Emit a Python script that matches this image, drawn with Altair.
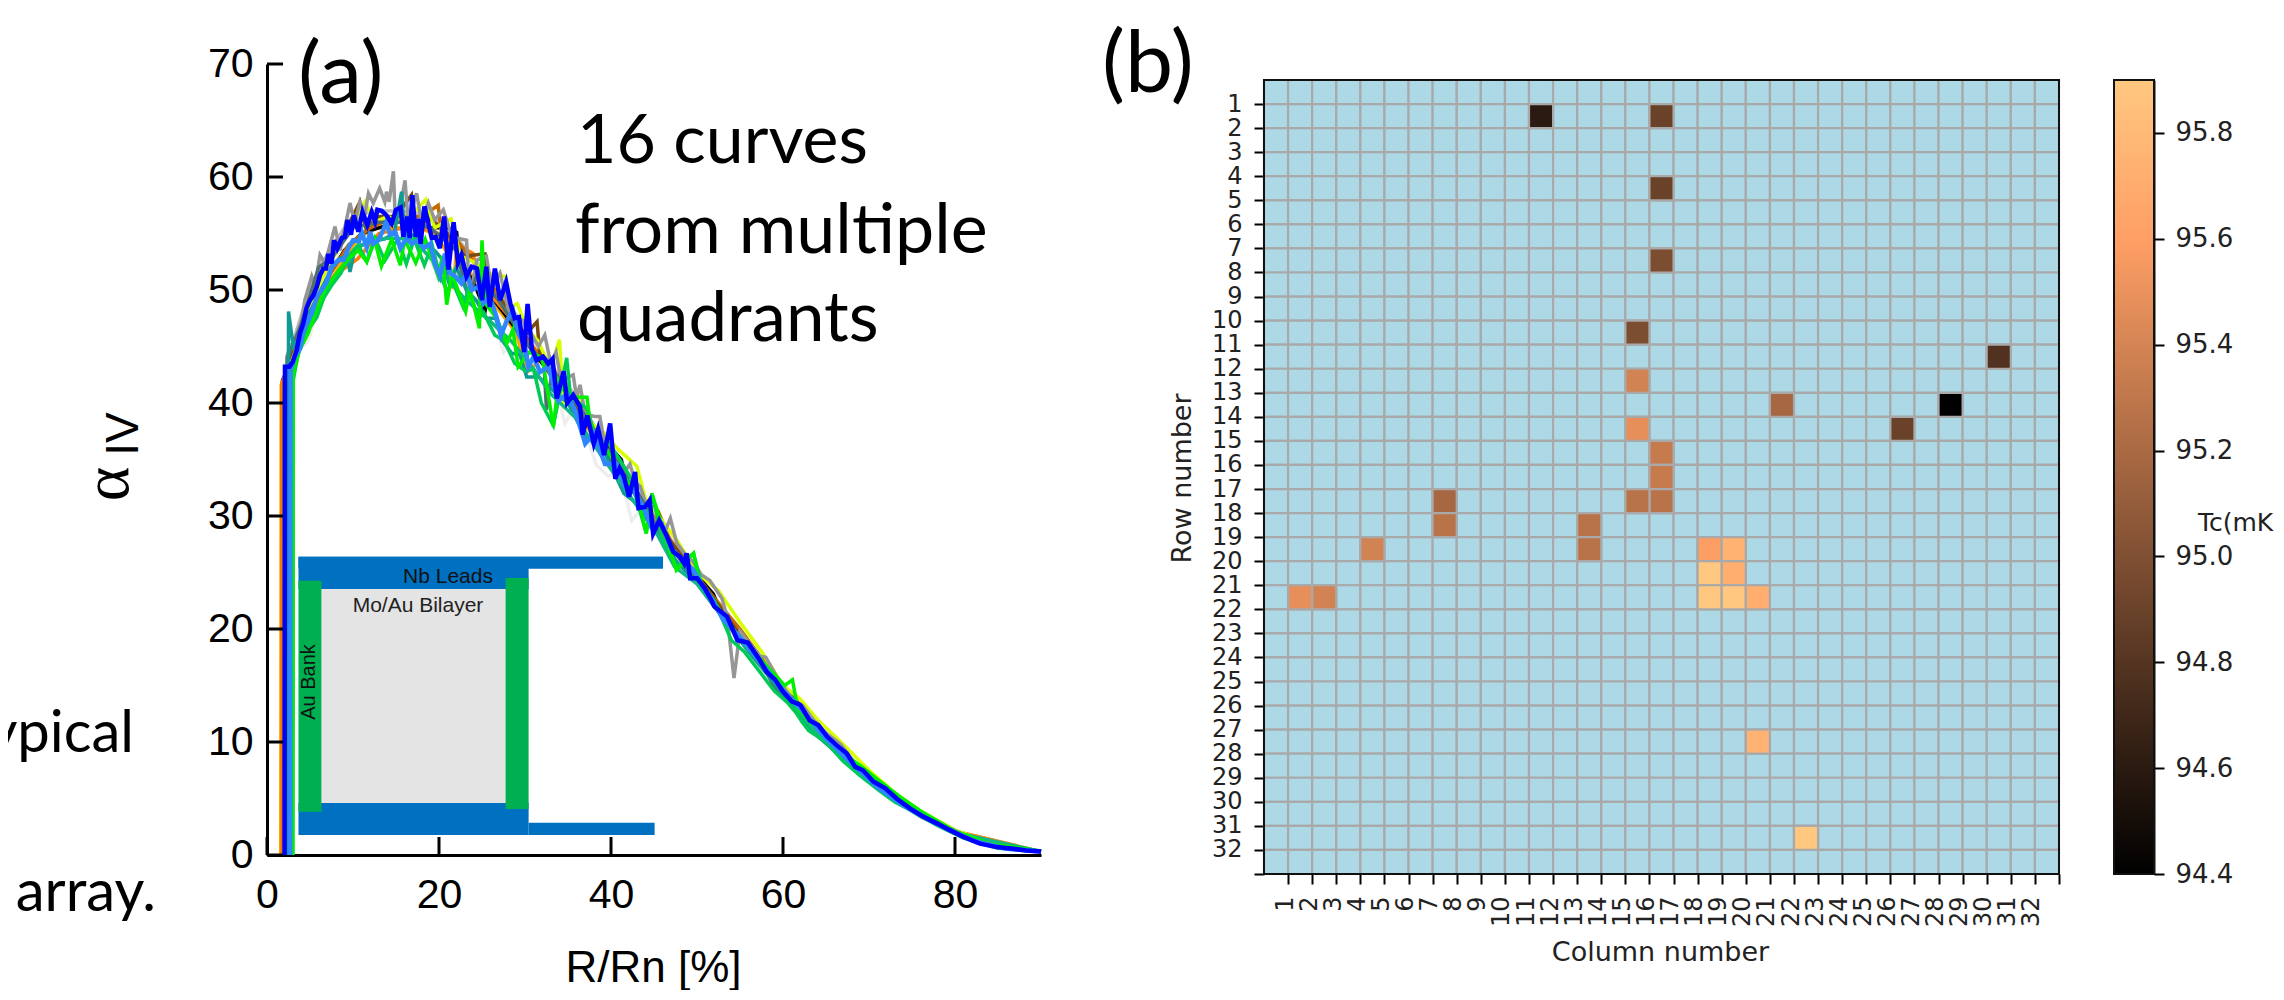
import altair as alt
import pandas as pd

# ---------- panel (a): curves, (R/Rn %, alpha) ----------
blue = [(2.05,0),(2.09,43.2),(2.6,43.2),(3.0,43.65),(3.45,44.7),(3.84,46.2),(4.2,47.0),(4.6,48.4),(5.0,49.1),(5.4,49.55),(5.8,50.3),(6.16,51.3),(6.55,51.9),(6.86,51.9),(7.13,53.2),(7.5,52.35),(7.8,54.4),(8.18,53.7),(8.7,54.6),(9.07,54.7),(9.34,56.2),(9.77,54.9),(10.1,56.6),(10.62,55.16),(11.1,56.9),(11.67,55.75),(12.17,56.9),(12.56,56.05),(12.83,57.1),(13.33,57.0),(13.9,56.6),(14.5,55.9),(15.0,57.1),(15.54,57.3),(15.85,54.7),(16.3,56.5),(16.6,54.6),(16.9,58.4),(17.3,54.7),(17.6,56.3),(17.87,54.1),(18.3,57.4),(18.76,55.9),(19.15,54.6),(19.6,54.7),(20.1,53.7),(20.6,56.5),(21.1,51.8),(21.7,56.0),(22.2,52.4),(22.6,53.1),(23.2,51.2),(23.8,52.06),(24.4,51.9),(25.0,49.1),(25.5,52.06),(25.9,48.5),(26.5,51.9),(27.1,49.1),(27.8,50.7),(28.3,48.8),(28.8,47.5),(29.3,47.6),(29.9,44.5),(30.3,48.76),(30.8,44.8),(31.35,43.8),(32.1,44.1),(32.7,43.5),(33.2,43.9),(33.7,40.4),(34.5,42.8),(34.9,40),(35.6,40.7),(36.4,39.7),(36.7,37.2),(37.25,38.9),(38,36.4),(38.5,37.7),(39.2,35.4),(39.9,38.2),(40.5,33.3),(41,34.2),(41.5,33.5),(42.1,31.7),(42.8,33.9),(43.2,30.7),(43.95,30.8),(44.5,31.4),(44.9,28.45),(45.6,29.6),(46.5,28.2),(47.25,26.8),(48,26.4),(48.5,25.8),(48.8,26.7),(49.2,24.5),(50,24.5),(50.9,23.6),(51.7,22.5),(52,22),(53.5,21.1),(54.7,19),(55.9,18.8),(57.3,17.25),(58.1,16.2),(59.1,15.5),(60,14.45),(61,13.6),(62,13.3),(63.1,11.9),(64.1,11.5),(65.1,10.5),(66.25,9.7),(67.4,9),(68.4,7.8),(69.3,7.5),(70.5,6.5),(71.9,5.9),(73.2,5),(74.8,4.1),(76.3,3.4),(77.9,2.8),(79.4,2.2),(81,1.6),(82.9,1.0),(84.85,0.7),(86.8,0.55),(88.3,0.4),(90,0.3)]
light_blue = [(2.7,0),(2.75,42.9),(3.26,44.1),(3.84,44.8),(4.2,46.2),(4.6,47.0),(5.2,47.9),(5.8,49.4),(6.35,50),(6.94,50.7),(7.5,52.06),(8.3,52.65),(8.9,52.65),(9.45,53.7),(10,54.4),(10.7,54.3),(11,55.16),(11.6,53.8),(12,55.16),(12.36,54.1),(12.95,54.4),(13.5,55.3),(13.9,56.05),(14.3,54.9),(14.9,55.16),(15.5,53.7),(16.25,54.6),(16.8,54.1),(17.6,54.4),(18.2,53.7),(19,54.1),(19.5,52.35),(20.1,51.2),(20.7,53.2),(21.3,51.5),(21.9,51.2),(22.6,50.6),(23.2,51.5),(23.8,50),(24.6,50.3),(25.15,48.8),(25.9,49.4),(26.7,47.6),(27.2,46),(27.9,47.3),(28.6,48.2),(29.2,46.2),(30,45),(30.4,43.2),(31,44.1),(31.75,42.75),(32.7,43.2),(33.9,40.2),(34.85,40.8),(35.8,39.4),(37,36.4),(38,37.3),(39.3,34.6),(40.66,34.6),(41.6,32.6),(42.6,32.3),(43.75,30.8),(44.7,29),(45.9,29.3),(47,27.1),(48.4,26.1),(49.6,25.2),(50.7,23.7),(51.7,22.7),(53,20.9),(56,18.4),(58.5,16),(60,14.6),(62,13),(65,10.3),(68,8.1),(71,6),(74,4.4),(78,2.7),(82,1.3),(86,0.55),(90,0.3)]
gray = [(2.3,0),(2.3,44.1),(2.7,45),(3.26,45.6),(4.03,47.3),(4.4,49.1),(5.2,51.2),(5.6,50.3),(6.16,53.1),(6.75,52.35),(7.9,55.6),(8.5,53.5),(9.65,57.7),(10.2,55.9),(10.8,57.8),(11.4,56.8),(11.8,58.55),(12.36,57.7),(13.1,59),(13.7,57.8),(13.9,58.7),(14.2,57.8),(14.7,60.5),(14.9,56.5),(15.5,57.4),(16.05,59.7),(16.4,56.2),(17.4,58.55),(18,55.9),(18.76,57.7),(19.5,56.2),(20.5,57.1),(21.5,54.7),(23.2,54.4),(23.6,49.4),(24.4,52.65),(25.5,53),(26.1,50.3),(27.1,51.5),(28.25,47.6),(29.8,47.3),(31.55,45),(32.3,46),(33,43.5),(33.6,44.5),(34.2,42),(35.6,42.5),(36,40.5),(36.4,41.6),(37,39),(38.1,38.8),(38.7,38.8),(39.3,36.2),(39.9,36.4),(40.8,34),(41.5,33.8),(42.2,34.6),(42.8,33),(43.4,32.6),(44.3,30.5),(45.2,29.5),(46.2,28.5),(46.9,29.8),(47.65,27.6),(48.7,26.5),(49.5,26),(50.5,24.8),(51.5,24.3),(52.9,22.7),(53.5,21.1),(54.3,15.66),(55,19.8),(56,18.8),(57.3,17.6),(58,17.5),(59.2,15.9),(60.2,14.7),(61.5,13.4),(62.3,13.2),(63.5,12),(65,10.8),(66.7,9.8),(68.5,8),(70.5,6.8),(72.5,5.3),(75,4.2),(78,2.9),(81,1.8),(85,0.8),(90,0.3)]
teal = [(2.45,0),(2.5,48.1),(3.06,45),(3.8,45.8),(4.6,47.5),(5.6,49),(6.6,50.5),(7.6,52),(8.6,52.8),(9.3,53),(9.65,51.6),(10.2,53.6),(11.2,54),(12.4,54.6),(13.6,54.5),(14.8,55),(15.65,58.7),(16,55),(17.2,54.8),(18.4,53.8),(19.5,53.5),(20.5,52.6),(21.2,50.5),(22,52),(23.2,50),(24.4,49),(25.5,47.5),(26.6,47.5),(27.4,45.5),(28.45,44.4),(29.4,44.3),(30.2,42.3),(31.6,42.3),(33.4,41),(35,40),(37,37),(38.8,36.4),(41.5,32),(44,30.5),(45.5,28.4),(47.6,26),(50,24),(53,21),(56,18),(59,15.2),(61,13.2),(63,11.2),(66,9.2),(69,7.1),(72,5.3),(76,3.4),(80,1.9),(85,0.75),(90,0.3)]
lime = [(3,0),(3.06,42.6),(3.8,44.7),(4.8,46.2),(5.4,47.5),(6.7,50),(8.1,51.5),(9.5,52.8),(10.6,53.5),(11.6,52.5),(12.5,54.5),(13.3,52.1),(14.5,54.5),(15.5,52.2),(16,54.5),(17.3,52.4),(18.4,54.5),(19.9,51.2),(20.4,53),(20.9,48.7),(21.5,51.5),(23.1,48.1),(23.6,50),(24.7,46.6),(25,54.4),(25.4,48.8),(26.7,47.5),(27.9,45.3),(28.6,46.5),(29.2,43.2),(30.5,44.5),(32,44),(33.3,37.9),(33.9,42),(35,40.5),(37.2,40.5),(37.8,37),(39,36.5),(41,34),(43,32),(44.1,28.45),(44.75,32),(46,29),(47.6,25.2),(49.6,26.7),(50.3,24),(52,22.4),(54,20),(56,18.5),(58,16.8),(60.2,15),(61.1,15.5),(61.7,13),(63.3,11.6),(65,10.4),(67,9),(69,7.9),(71,6.7),(73.5,5.2),(76,3.9),(80,2.1),(84,1),(90,0.35)]
emerald = [(3,0),(3.05,42),(3.6,44.3),(4.3,46.2),(5.1,46.8),(5.8,47.6),(6.6,49.3),(7.6,50.5),(8.6,51.5),(9.5,53),(10.6,54),(11.6,52.5),(12.6,54.5),(13.7,52.6),(15.2,54.5),(16.2,52.3),(17.1,54.5),(18.3,52.2),(19.2,54),(20,51.5),(20.9,50),(21.7,50.5),(22.8,48.5),(23.4,50),(24.6,47.5),(25.2,48),(26.5,46),(27.6,45.5),(28.8,43.5),(30.1,42.8),(31,43),(31.9,40),(33.3,38),(34.85,44),(35.3,40.5),(36.3,40),(37.2,39.5),(38.4,36.5),(39.7,36.5),(41,35),(42.2,33.5),(44.1,28.5),(44.75,32),(46,28),(47.6,25.5),(49.6,26.7),(50.5,24),(52,22.5),(54,19),(55.5,18),(57,16.5),(59,14.5),(60.5,13.5),(61.6,12.5),(62.2,11.8),(63,11),(65,10),(67,8.3),(69,7),(71,5.8),(73,4.7),(75,3.9),(78,2.6),(81,1.5),(85,0.6),(90,0.3)]
yellow = [(2.5,0),(2.55,43),(3.5,45),(5,48.5),(7,52),(9,54.5),(11.4,57.8),(12.5,56),(14,56.5),(16,56),(18.45,58),(19.5,55.5),(21.4,56.3),(22.5,53),(24,52.5),(25.5,51.5),(27.75,51.2),(28.3,48.5),(29.1,48.8),(30.3,46.5),(31.5,45.5),(33,43),(34,45.6),(34.5,39.8),(36,41),(37.75,38.2),(39,37.5),(40.7,36),(43,34.4),(44,31.5),(46,29.5),(47.7,27.8),(50,25),(52.5,23.4),(55,20.6),(57.5,18),(60,15),(62,13.8),(64,12),(67,9.8),(70,7.5),(73,5.5),(76,3.9),(80,2.2),(85,0.8),(90,0.3)]
orange = [(1.6,0),(1.65,41.6),(3,43.8),(4.6,46.5),(6.7,49.8),(8.5,52.2),(10.5,54.5),(12.5,55.5),(15,55.5),(17.5,55.5),(19.5,55),(20.8,53.5),(21.7,50.1),(22.1,54.6),(23,52),(25,50.3),(27,48.2),(29,46.2),(30.2,42.7),(32,44),(33,43.3),(35,40.4),(38,37),(41,33.8),(44,31),(47,27.5),(50,24.5),(53,21.5),(56,18.6),(59,15.6),(62,13),(66,9.7),(70,6.9),(75,4),(80,2.1),(85,0.8),(90,0.3)]
dark_orange = [(1.9,0),(1.95,42),(4,46.5),(7,51),(9.5,54),(12,55.5),(15,56.5),(18,56.5),(19.9,57.5),(20.3,55),(22,54.5),(24,52.5),(27,49.5),(30,46),(33,42.5),(36,39.5),(39,36),(41.4,34.3),(43.5,31.5),(45.5,30.4),(47,27.6),(50,24.6),(55,20),(60,14.8),(65,10.4),(70,7),(75,4.1),(80,2.1),(85,0.8),(90,0.3)]
bright_orange = [(1.7,0),(1.75,41.8),(4,46),(7,50.8),(10.6,52.8),(13,55),(17,55.7),(20,55),(24,53.2),(24.4,51),(28,47.8),(32,44),(36,40),(40,35.2),(45,29.8),(50,24.7),(55,19.6),(60,14.9),(65,10.5),(70,7),(75,4.1),(80,2.1),(90,0.3)]
brown = [(2.2,0),(2.25,43),(4,47),(6,50.5),(8,53.5),(10.8,57.8),(11.5,55.5),(13,56.5),(15,56.5),(16.8,58.4),(17.2,55.5),(19,56.3),(21,55),(23,53),(25.35,53.2),(25.8,50),(28,48.5),(30,46),(31.4,47.2),(31.7,44.5),(34,42),(37,38.5),(40,35),(43,32),(46,28.7),(49,25.7),(52,22.6),(56,18.4),(60,15),(64,11.5),(68,8.2),(72,5.6),(76,3.6),(80,2.1),(85,0.8),(90,0.3)]
black = [(1.75,0),(1.8,42),(3,44),(5,48),(7,51),(9,53.5),(11,55),(13,55.5),(15,56),(17,56),(19,55.5),(21,55.5),(22.05,55.1),(22.4,52.5),(24,50.8),(25.35,48.1),(25.7,49.8),(28,47.5),(31,44.5),(34,41.5),(37,38.5),(41.2,35),(41.8,33),(45,29.5),(48,26.5),(51.9,23.1),(52.5,22),(56,18.4),(60,14.8),(65,10.4),(70,6.9),(75,4.1),(80,2.1),(85,0.8),(90,0.3)]
light_gray = [(2.6,0),(2.65,43),(3.5,44.5),(4.8,45.5),(6,48.5),(7.2,52),(7.9,55.7),(8.4,52),(10,53),(11.5,53.2),(12.5,52.8),(14.1,53.1),(15.2,54),(16.4,53),(18,53.5),(20,51.5),(22,52),(24,48.5),(25,50.5),(26.5,47.5),(27.5,44.5),(29,46),(31,42.5),(33,43),(34.65,38.2),(36,40),(38.3,34.5),(39.7,33.5),(41,34),(42.4,29.6),(44,31),(46,27.8),(48,26),(50,24),(52,22.2),(55,19.5),(57,16.8),(59,15),(62,12.8),(65,10.2),(68,8),(71,6),(75,4),(80,2.1),(85,0.75),(90,0.3)]
slate = [(2.35,0),(2.4,44),(4,47),(6,52),(7.5,52.8),(10,55.5),(13,56),(16,56),(19,55.5),(22,53.5),(23.4,49.4),(24.5,51.5),(27,49),(30,45.5),(32.2,43.5),(32.5,39.4),(33.2,43),(36,40),(39,36.5),(41.8,33.8),(45,29.5),(48,26.2),(52,22.3),(56,18.2),(58,16.3),(59,14.8),(62,12.6),(67,8.8),(71,6.2),(76,3.4),(80,2),(85,0.7),(90,0.3)]
pale_gray = [(2.2,0),(2.25,43.5),(4.5,49),(6.5,52.5),(9,55.5),(12,57),(15,57),(18,56.8),(21,55.6),(24,52.8),(27,49.8),(30,46.8),(33,43.4),(36,40.5),(40,35.6),(44,31.2),(48,26.8),(52,22.8),(56,18.8),(60,15.1),(65,10.6),(70,7),(75,4.2),(80,2.1),(90,0.3)]
sea_green = [(2.9,0),(2.95,43),(5,47.2),(8,51.2),(11,54),(14,54.6),(17,54.5),(20,52),(23,49.2),(26,47.2),(28.5,45.4),(31,43),(33,40.8),(36,38.6),(39,35.2),(42,32),(45.5,28.2),(47.4,25.5),(50,24),(54,20),(58,16.4),(63.4,11.2),(65,10.2),(70,6.6),(75,3.9),(80,2),(90,0.3)]

x_ticks = [0, 20, 40, 60, 80]
y_ticks = [0, 10, 20, 30, 40, 50, 60, 70]

# inset schematic, in the panel's data units
inset_x1 = [3.66, 3.66, 30.42, 3.66, 30.42, 6.33, 3.66, 27.74]
inset_x2 = [30.42, 46.05, 46.05, 30.42, 45.07, 27.74, 6.33, 30.42]
inset_y1 = [23.54, 25.35, 25.35, 1.77, 1.77, 4.6, 3.83, 4.07]
inset_y2 = [26.4, 26.4, 26.4, 4.6, 2.86, 23.54, 24.27, 24.51]
inset_fill = ["#0070C0", "#0070C0", "#0070C0", "#0070C0", "#0070C0", "#E4E4E4", "#00B050", "#00B050"]

# ---------- panel (b): Tc map ----------
cell_col = [11, 16, 16, 16, 15, 30, 15, 28, 21, 26, 15, 16, 16, 16, 15, 7, 7, 13, 13, 4, 1, 2, 18, 19, 18, 19, 18, 19, 20, 20, 22]
cell_row = [1, 1, 4, 7, 10, 11, 12, 13, 13, 14, 14, 15, 16, 17, 17, 17, 18, 18, 19, 19, 21, 21, 19, 19, 20, 20, 21, 21, 21, 27, 31]
cell_tc = [94.6, 94.9, 94.9, 94.98, 94.98, 94.78, 95.39, 94.4, 95.18, 94.9, 95.48, 95.33, 95.33, 95.27, 95.27, 95.18, 95.27, 95.27, 95.27, 95.39, 95.48, 95.39, 95.59, 95.74, 95.9, 95.71, 95.9, 95.9, 95.71, 95.74, 95.9]
grid_index = list(range(33))
cbar_ticks = [94.4, 94.6, 94.8, 95.0, 95.2, 95.4, 95.6, 95.8]

SANS = "Liberation Sans"
DEJA = "DejaVu Sans"
LATO = "Lato"
ONE = alt.Data(values=[{"k": 0}])


def note(text, px, py, size, font=LATO, angle=0, align="left", baseline="alphabetic", color="black", clip=False):
    return alt.Chart(ONE).mark_text(
        text=text, font=font, fontSize=size, angle=angle, align=align,
        baseline=baseline, color=color, clip=clip,
    ).encode(x=alt.value(px), y=alt.value(py))


# panel 0: text at the far left, starts at page x=8, y=64
TOP = 64
p0 = alt.layer(
    note("typical", 134 - 8, 752 - TOP, 58, align="right", clip=True),
    note("array.", 156 - 8, 911 - TOP, 58, align="right", clip=True),
    note("α", 108 - 8, 484 - TOP, 66, font="Liberation Serif", angle=270, align="center", baseline="middle"),
    note("IV", 124 - 8, 434 - TOP, 46, font=SANS, angle=270, align="center", baseline="middle"),
).properties(width=223, height=900)

# panel 1
xs = alt.Scale(domain=[0, 90], range=[0, 774], nice=False, zero=False)
ys = alt.Scale(domain=[0, 70], range=[791, 0], nice=False, zero=False)
x_axis = alt.Axis(values=x_ticks, ticks=False, tickSize=0, grid=False, domainColor="black", domainWidth=3,
                  labelFont=SANS, labelFontSize=41, labelColor="black", labelPadding=20, labelOverlap=False,
                  labelFlush=False, title="R/Rn [%]", titleFont=SANS, titleFontSize=44, titleFontWeight="normal",
                  titleColor="black", titleX=386, titleY=113, titleBaseline="middle")
y_axis = alt.Axis(values=y_ticks, ticks=False, tickSize=0, grid=False, domainColor="black", domainWidth=3,
                  labelFont=SANS, labelFontSize=41, labelColor="black", labelPadding=14, labelOverlap=False,
                  labelFlush=False, title="")

curves = [
    (light_gray, "#EEEEEE", 3.5), (pale_gray, "#BDBDBD", 3.5), (orange, "#FFA500", 3.5), (black, "#000000", 3.5),
    (bright_orange, "#FF7F00", 3.5), (dark_orange, "#C46A00", 3.5), (brown, "#7A4A10", 3.5), (yellow, "#D8FF00", 3.5),
    (gray, "#969696", 3.5), (slate, "#4F6F6F", 3.5), (teal, "#0F9A94", 3.5), (sea_green, "#12B886", 3.5),
    (emerald, "#00CC55", 3.5), (lime, "#00F000", 3.5), (light_blue, "#2F86FF", 4.5), (blue, "#0000FF", 4.5),
]
layers = []
for i, (pts, col, sw) in enumerate(curves):
    df = pd.DataFrame(pts, columns=["x", "y"])
    df["n"] = range(len(df))
    enc = dict(
        x=alt.X("x:Q", scale=xs, axis=x_axis),
        y=alt.Y("y:Q", scale=ys, axis=y_axis),
        order="n:Q",
    )
    layers.append(alt.Chart(df).mark_line(color=col, strokeWidth=sw).encode(**enc))

tick_x = alt.Chart(pd.DataFrame({"t": x_ticks})).mark_rule(color="black", strokeWidth=3).encode(
    x=alt.X("t:Q", scale=xs, axis=x_axis), y=alt.value(791), y2=alt.value(773))
tick_y = alt.Chart(pd.DataFrame({"t": y_ticks})).mark_rule(color="black", strokeWidth=3).encode(
    y=alt.Y("t:Q", scale=ys, axis=y_axis), x=alt.value(0), x2=alt.value(16))
inset_df = pd.DataFrame({"a": inset_x1, "b": inset_x2, "c": inset_y1, "d": inset_y2, "f": inset_fill})
inset = alt.Chart(inset_df).mark_rect().encode(
    x=alt.X("a:Q", scale=xs, axis=x_axis), x2="b:Q",
    y=alt.Y("c:Q", scale=ys, axis=y_axis), y2="d:Q",
    fill=alt.Fill("f:N", scale=None),
)


def off(px, py):
    return px - 267, py - TOP


p1 = alt.layer(
    *layers, tick_x, tick_y, inset,
    note("Nb Leads", *off(448, 583), 21, font=SANS, align="center", color="#111111"),
    note("Mo/Au Bilayer", *off(418, 612), 21, font=SANS, align="center", color="#222222"),
    note("Au Bank", *off(309, 682), 20, font=SANS, angle=270, align="center", baseline="middle", color="#111111"),
    note("(a)", *off(298, 103), 86),
    note("16 curves", *off(577, 163), 68),
    note("from multiple", *off(575, 253), 70),
    note("quadrants", *off(577, 341), 69),
    note("(b)", *off(1102, 92), 86),
).properties(width=961, height=791)

# panel 2
hx = alt.Scale(domain=[0, 33], range=[0, 795], nice=False, zero=False)
hy = alt.Scale(domain=[0, 33], range=[16, 810], nice=False, zero=False)
color_scale = alt.Scale(domain=[94.4, 95.6, 95.9], range=["#000000", "#FF9F65", "#FFC77F"], clamp=True, interpolate="rgb")
GRID = "#A9A9A9"

base_df = pd.DataFrame([{"c": c, "r": r, "c2": c + 1, "r2": r + 1} for c in grid_index for r in grid_index])
hx_axis = alt.Axis(values=list(range(1, 34)), labelExpr="datum.value < 33 ? datum.value : ''", grid=False,
                   domain=False, tickColor="black", tickWidth=2, tickSize=10, labelFont=DEJA, labelFontSize=24,
                   labelColor="#222222", labelAngle=270, labelPadding=12, labelOverlap=False, labelFlush=False,
                   labelOffset=-3, title="Column number", titleFont=DEJA, titleFontSize=27, titleFontWeight="normal",
                   titleColor="#222222", titleX=396, titleY=78, titleBaseline="middle")
hy_axis = alt.Axis(values=list(range(1, 34)), labelExpr="datum.value < 33 ? datum.value : ''", grid=False,
                   domain=False, tickColor="black", tickWidth=2, tickSize=10, labelFont=DEJA, labelFontSize=24,
                   labelColor="#222222", labelPadding=12, labelOverlap=False, labelFlush=False,
                   title="Row number", titleFont=DEJA, titleFontSize=27, titleFontWeight="normal",
                   titleColor="#222222", titleX=-82, titleY=414, titleBaseline="middle")
base = alt.Chart(base_df).mark_rect(fill="#ADD8E6", stroke=GRID, strokeWidth=2.2).encode(
    x=alt.X("c:Q", scale=hx, axis=hx_axis), x2="c2:Q",
    y=alt.Y("r:Q", scale=hy, axis=hy_axis), y2="r2:Q",
)
hot_df = pd.DataFrame({"c": cell_col, "r": cell_row, "tc": cell_tc})
hot_df["c2"] = hot_df["c"] + 1
hot_df["r2"] = hot_df["r"] + 1
hot = alt.Chart(hot_df).mark_rect(stroke=GRID, strokeWidth=2.2).encode(
    x=alt.X("c:Q", scale=hx, axis=hx_axis), x2="c2:Q",
    y=alt.Y("r:Q", scale=hy, axis=hy_axis), y2="r2:Q",
    color=alt.Color("tc:Q", scale=color_scale, legend=None),
)
frame = alt.Chart(pd.DataFrame({"a": [0], "b": [33], "c": [0], "d": [33]})).mark_rect(
    fillOpacity=0, stroke="#111111", strokeWidth=2).encode(
    x=alt.X("a:Q", scale=hx, axis=hx_axis), x2="b:Q",
    y=alt.Y("c:Q", scale=hy, axis=hy_axis), y2="d:Q",
)
p2 = alt.layer(base, hot, frame).properties(width=814, height=810)

# panel 3: colour bar
cy = alt.Scale(domain=[94.4, 95.9], range=[810, 16], nice=False, zero=False)
cy_axis = alt.Axis(orient="right", values=cbar_ticks, format=".1f", grid=False, domainColor="#111111", domainWidth=2,
                   tickColor="black", tickWidth=2, tickSize=10, labelFont=DEJA, labelFontSize=26, labelColor="#222222",
                   labelPadding=11, labelOverlap=False, labelFlush=False, title="")
p3 = alt.Chart(pd.DataFrame({"lo": [94.4], "hi": [95.9]})).mark_rect(
    stroke="#111111", strokeWidth=2,
    fill=alt.Gradient(gradient="linear", x1=0, x2=0, y1=1, y2=0, stops=[
        alt.GradientStop(offset=0, color="#000000"),
        alt.GradientStop(offset=0.8, color="#FF9F65"),
        alt.GradientStop(offset=1, color="#FFC77F"),
    ]),
).encode(
    y=alt.Y("lo:Q", scale=cy, axis=cy_axis), y2="hi:Q",
    x=alt.value(0), x2=alt.value(40),
).properties(width=40, height=810)

# panel 4: colour-bar title, cut by the page edge as in the picture
p4 = note("Tc(mK)", 8, 531 - TOP, 25, font=DEJA, color="#222222", clip=True).properties(width=84, height=810)

chart = alt.hconcat(p0, p1, p2, p3, p4, spacing=36, bounds="flush").properties(
    padding={"left": 0, "top": 15, "right": 0, "bottom": 0}, background="white"
).configure_view(stroke="transparent", strokeWidth=0)

chart.save("out.html", embed_options={"renderer": "svg", "actions": False})
